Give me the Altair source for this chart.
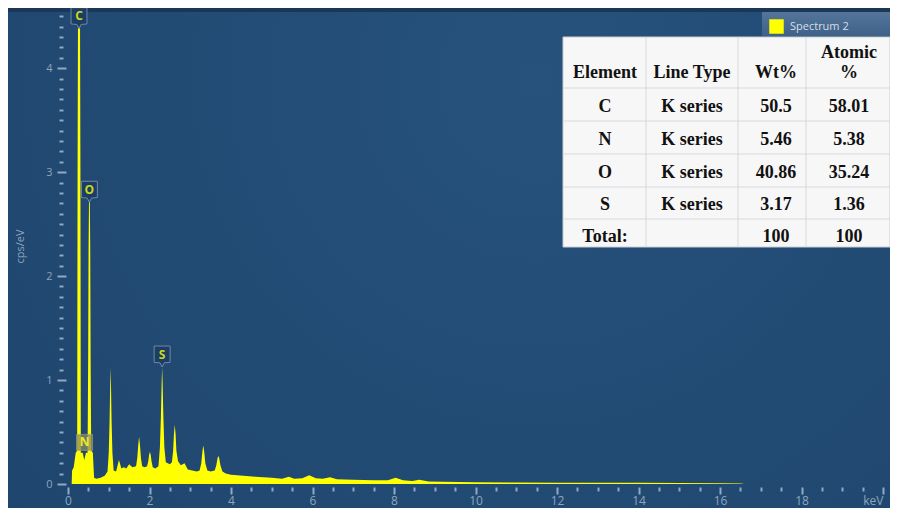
import altair as alt
import pandas as pd

# ---------------- data ----------------
energy = [0.09, 0.10, 0.14, 0.19, 0.225, 0.235, 0.245, 0.295, 0.305, 0.315,
          0.36, 0.40, 0.44, 0.48, 0.495, 0.505, 0.515, 0.535, 0.545, 0.555, 0.57, 0.61,
          0.64, 0.70, 0.80, 0.90, 0.97, 1.00, 1.02, 1.035, 1.045, 1.055, 1.07, 1.09, 1.12,
          1.18, 1.25, 1.31, 1.37, 1.43, 1.50, 1.58, 1.67, 1.70, 1.725, 1.745, 1.765, 1.79, 1.82,
          1.88, 1.94, 1.97, 1.99, 2.01, 2.03, 2.05, 2.08, 2.14, 2.22, 2.255, 2.28, 2.30, 2.31,
          2.32, 2.34, 2.365, 2.40, 2.50, 2.55, 2.58, 2.60, 2.62, 2.64, 2.66, 2.70, 2.77, 2.86,
          2.94, 3.05, 3.16, 3.23, 3.27, 3.30, 3.32, 3.34, 3.37, 3.42, 3.50, 3.60, 3.64, 3.67,
          3.69, 3.71, 3.74, 3.79, 3.87, 4.00, 4.30, 4.60, 5.00, 5.25, 5.42, 5.55, 5.75,
          5.92, 6.08, 6.25, 6.43, 6.60, 7.00, 7.50, 7.85, 8.04, 8.22, 8.45, 8.62,
          8.85, 9.20, 10.0, 11.0, 12.0, 13.0, 14.0, 15.0, 16.0, 16.5, 16.6, 20.0]
cps = [0.0, 0.13, 0.16, 0.30, 0.32, 3.0, 4.45, 4.45, 3.0, 0.30,
       0.30, 0.23, 0.30, 0.30, 1.2, 2.3, 2.72, 2.72, 2.3, 1.2, 0.32, 0.30,
       0.06, 0.05, 0.06, 0.08, 0.12, 0.30, 0.60, 0.95, 1.12, 0.95, 0.60, 0.30, 0.13,
       0.12, 0.23, 0.15, 0.16, 0.15, 0.19, 0.16, 0.17, 0.25, 0.38, 0.455, 0.38, 0.25, 0.17,
       0.16, 0.17, 0.22, 0.28, 0.31, 0.28, 0.22, 0.16, 0.15, 0.17, 0.35, 0.65, 1.0, 1.12,
       1.0, 0.65, 0.35, 0.21, 0.19, 0.21, 0.32, 0.48, 0.57, 0.48, 0.32, 0.22, 0.18, 0.20,
       0.14, 0.13, 0.12, 0.13, 0.20, 0.32, 0.37, 0.32, 0.20, 0.13, 0.12, 0.13, 0.18, 0.25,
       0.27, 0.25, 0.18, 0.12, 0.10, 0.09, 0.08, 0.07, 0.06, 0.05, 0.07, 0.05, 0.055,
       0.085, 0.055, 0.05, 0.065, 0.045, 0.04, 0.035, 0.035, 0.06, 0.035, 0.03, 0.04,
       0.025, 0.022, 0.018, 0.015, 0.013, 0.012, 0.012, 0.010, 0.008, 0.006, 0.0, 0.0]

peak_elements = ["C", "O", "S"]
peak_energy = [0.27, 0.525, 2.31]
peak_cps = [4.38, 2.71, 1.125]

n_element = ["N"]
n_energy = [0.405]
n_cps = [0.40]

legend_name = "Spectrum 2"

x_major = [0, 2, 4, 6, 8, 10, 12, 14, 16, 18, 20]
x_minor = [v / 2 for v in range(0, 41) if v % 4 != 0]
y_major = [0, 1, 2, 3, 4]
y_minor = [v / 10 for v in range(0, 46) if v % 10 != 0]

table_header_top = ["", "", "", "Atomic"]
table_header = ["Element", "Line Type", "Wt%", "%"]
table_element = ["C", "N", "O", "S", "Total:"]
table_line_type = ["K series", "K series", "K series", "K series", ""]
table_wt = ["50.5", "5.46", "40.86", "3.17", "100"]
table_atomic = ["58.01", "5.38", "35.24", "1.36", "100"]

# ---------------- layout ----------------
W, H = 815, 473
PAD = {"left": 60, "top": 3, "right": 7, "bottom": 24}
OX, OY = 68, 11            # page position of the plot origin
XD, YD = [0, 20], [0, 4.55]

TICK = "#93a8c2"
LAB = "#8ea4bf"
FONT = "Open Sans"

col_centers = [605, 692, 776, 849]
header_top_y = 53
header_y = 73
row_y = [107, 140, 173, 205, 237]
vlines = [646, 738, 806]
hlines = [88, 121, 154, 187, 219]
tbl_x0, tbl_y0, tbl_x1, tbl_y1 = 563, 37, 890, 247

xs = alt.Scale(domain=XD, nice=False, zero=False)
ys = alt.Scale(domain=YD, nice=False)

spec_df = pd.DataFrame({"E": energy, "cps": cps, "series": legend_name})
peak_df = pd.DataFrame({"E": peak_energy, "cps": peak_cps, "el": peak_elements})
n_df = pd.DataFrame({"E": n_energy, "cps": n_cps, "el": n_element})

one = pd.DataFrame({"a": [0]})

# background
bg = alt.Chart(one).mark_rect(
    color=alt.RadialGradient(
        gradient="radial", x1=0.6, y1=0.3, x2=0.6, y2=0.3, r1=0, r2=0.85,
        stops=[alt.GradientStop(color="#26527c", offset=0),
               alt.GradientStop(color="#1e446c", offset=1)])
).encode(x=alt.value(-PAD["left"]), x2=alt.value(W + PAD["right"]),
         y=alt.value(-PAD["top"]), y2=alt.value(H + PAD["bottom"]))

topband = alt.Chart(one).mark_rect(color="#1a3757").encode(
    x=alt.value(-PAD["left"]), x2=alt.value(W + PAD["right"]),
    y=alt.value(-PAD["top"]), y2=alt.value(1))

legbar = alt.Chart(one).mark_rect(
    color=alt.LinearGradient(gradient="linear", x1=0, y1=0, x2=0, y2=1,
                             stops=[alt.GradientStop(color="#55759a", offset=0),
                                    alt.GradientStop(color="#3f6188", offset=1)])
).encode(x=alt.value(762 - OX), x2=alt.value(W + PAD["right"]),
         y=alt.value(12 - OY), y2=alt.value(36 - OY))

area = alt.Chart(spec_df).mark_area(interpolate="linear", opacity=1).encode(
    x=alt.X("E:Q", scale=xs, axis=alt.Axis(
        values=x_major, labelExpr="datum.value == 20 ? 'keV' : datum.label",
        labelAlign={"condition": {"test": "datum.value == 20", "value": "right"},
                    "value": "center"},
        tickSize=7, tickWidth=2, tickColor=TICK, offset=3, domain=False, grid=False,
        labelColor=LAB, labelFont=FONT, labelFontSize=12, labelPadding=1,
        labelFlush=False, title=None, orient="bottom", zindex=2)),
    y=alt.Y("cps:Q", scale=ys, axis=alt.Axis(
        values=y_major, tickSize=9, tickWidth=2, tickColor=TICK, offset=2,
        domain=False, grid=False, labelColor=LAB, labelFont=FONT, labelFontSize=11,
        labelPadding=5, title="cps/eV", titleColor=LAB, titleFont=FONT,
        titleFontSize=11, titleFontWeight="normal", titleX=-46, titleY=235,
        titleAngle=270, titleAlign="center", titleBaseline="middle", orient="left",
        zindex=2)),
    color=alt.Color("series:N", scale=alt.Scale(domain=[legend_name], range=["#ffff00"]),
                    legend=alt.Legend(orient="none", legendX=701, legendY=8, title=None,
                                      symbolType="square", symbolSize=210,
                                      symbolStrokeWidth=0, labelColor="#d5dfea",
                                      labelFont=FONT, labelFontSize=11, labelOffset=6,
                                      padding=0)),
)

minor = alt.Chart(spec_df).mark_point(opacity=0).encode(
    x=alt.X("E:Q", scale=xs, axis=alt.Axis(
        values=x_minor, tickSize=4, tickWidth=2, tickColor=TICK, offset=3,
        domain=False, grid=False, labels=False, title=None, orient="bottom", zindex=2)),
    y=alt.Y("cps:Q", scale=ys, axis=alt.Axis(
        values=y_minor, tickSize=4, tickWidth=2, tickColor=TICK, offset=5,
        domain=False, grid=False, labels=False, title=None, orient="left", zindex=2)),
)

BADGE = "M-0.76,-1 L0.76,-1 L0.76,0.55 L0.2,0.6 L0,1 L-0.2,0.6 L-0.76,0.55 Z"
badges = alt.Chart(peak_df).mark_point(
    shape=BADGE, size=441, filled=True, fill="#1c3d64", stroke="#6f89a8",
    strokeWidth=1, opacity=1, yOffset=-10.5
).encode(x=alt.X("E:Q", scale=xs, axis=None), y=alt.Y("cps:Q", scale=ys, axis=None))

badge_txt = alt.Chart(peak_df).mark_text(
    color="#c9d81c", font=FONT, fontSize=12, fontWeight="bold", yOffset=-12.5,
    baseline="middle", align="center"
).encode(x=alt.X("E:Q", scale=xs, axis=None), y=alt.Y("cps:Q", scale=ys, axis=None),
         text="el:N")

n_box = alt.Chart(n_df).mark_point(
    shape="square", size=256, filled=True, fill="#8b8a5e", opacity=0.75,
    stroke="#a0a07a", strokeWidth=1
).encode(x=alt.X("E:Q", scale=xs, axis=None), y=alt.Y("cps:Q", scale=ys, axis=None))

n_txt = alt.Chart(n_df).mark_text(
    color="#e8ea30", font=FONT, fontSize=12, fontWeight="bold", baseline="middle"
).encode(x=alt.X("E:Q", scale=xs, axis=None), y=alt.Y("cps:Q", scale=ys, axis=None),
         text="el:N")

# ---------------- table ----------------
cells = []
for c, t in zip(col_centers, table_header_top):
    cells.append({"px": c - OX, "py": header_top_y - OY, "t": t})
for c, t in zip(col_centers, table_header):
    cells.append({"px": c - OX, "py": header_y - OY, "t": t})
for i, ry in enumerate(row_y):
    for c, t in zip(col_centers, [table_element[i], table_line_type[i],
                                  table_wt[i], table_atomic[i]]):
        cells.append({"px": c - OX, "py": ry - OY, "t": t})
cell_df = pd.DataFrame(cells)

tbl_bg = alt.Chart(one).mark_rect(
    color="#f7f7f7", stroke="#c8ccd2", strokeWidth=1
).encode(x=alt.value(tbl_x0 - OX), x2=alt.value(tbl_x1 - OX),
         y=alt.value(tbl_y0 - OY), y2=alt.value(tbl_y1 - OY))

lines = ([{"x": v - OX, "x2": v - OX, "y": tbl_y0 - OY, "y2": tbl_y1 - OY} for v in vlines] +
         [{"x": tbl_x0 - OX, "x2": tbl_x1 - OX, "y": h - OY, "y2": h - OY} for h in hlines])
tbl_lines = alt.Chart(pd.DataFrame(lines)).mark_rule(color="#d6d9de", strokeWidth=1).encode(
    x=alt.X("x:Q", scale=None, axis=None), x2="x2:Q",
    y=alt.Y("y:Q", scale=None, axis=None), y2="y2:Q")

tbl_text = alt.Chart(cell_df).mark_text(
    font="Liberation Serif", fontSize=18, fontWeight="bold", color="#111111",
    baseline="middle", align="center"
).encode(x=alt.X("px:Q", scale=None, axis=None), y=alt.Y("py:Q", scale=None, axis=None),
         text="t:N")

chart = alt.layer(
    bg, topband, legbar, area, minor, badges, badge_txt, n_box, n_txt,
    tbl_bg, tbl_lines, tbl_text
).resolve_scale(x="independent", y="independent").resolve_axis(
    x="independent", y="independent"
).properties(
    width=W, height=H, padding=PAD, autosize=alt.AutoSizeParams(type="none"),
    background="#1e446c"
).configure_view(stroke=None)

chart.save("out.html", embed_options={"renderer": "svg", "actions": False})
